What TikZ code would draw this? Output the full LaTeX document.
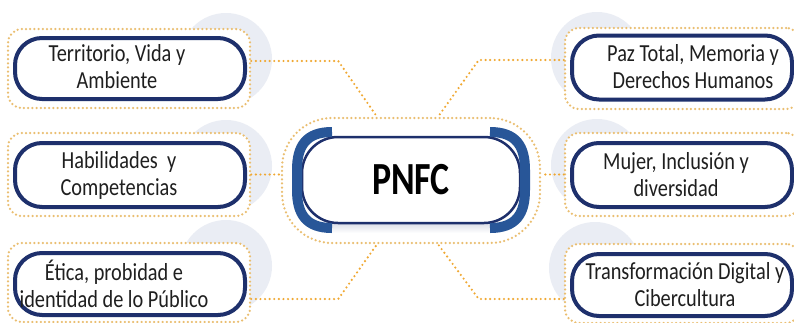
\documentclass[tikz,border=0pt]{standalone}
\usepackage{fontspec}
\setmainfont{Carlito}
\newfontfamily\boxfont[FakeStretch=0.83]{Carlito}
\newfontfamily\titlefont[FakeStretch=0.78]{Carlito}
\usetikzlibrary{calc}
\definecolor{navy}{RGB}{30,48,108}
\definecolor{capblue}{RGB}{40,86,152}
\definecolor{dotorange}{RGB}{240,168,50}
\definecolor{dotlight}{RGB}{234,190,112}
\definecolor{disc}{RGB}{234,237,244}
\begin{document}
\begin{tikzpicture}[x=1pt,y=-1pt,
  outerbox/.style={draw=dotlight, line width=2.5pt, dash pattern=on 0pt off 4.2pt, line cap=round, fill=white, rounded corners=14pt, inner sep=0pt},
  innerbox/.style={draw=navy, line width=4pt, fill=white, rounded corners=27pt, inner sep=0pt},
  conn/.style={draw=dotorange, line width=2.4pt, dash pattern=on 0pt off 4.6pt, line cap=round},
  greydisc/.style={fill=disc, draw=none},
  boxtext/.style={font=\boxfont\fontsize{24.5}{27}\selectfont, align=center, inner sep=0pt, text=black!88},
  capstroke/.style={draw=capblue, line width=10pt}
]
\useasboundingbox (0,0) rectangle (794,322);
\clip (0,0) rectangle (794,322);
\fill[white] (0,0) rectangle (794,322);

% grey discs
\fill[greydisc] (226,59) circle[radius=46pt];
\fill[greydisc] (226,166) circle[radius=46pt];
\fill[greydisc] (226,266) circle[radius=46pt];
\fill[greydisc] (597,58) circle[radius=46pt];
\fill[greydisc] (597,165) circle[radius=46pt];
\fill[greydisc] (595,268) circle[radius=46pt];

% outer dotted frames
\node[outerbox, minimum width=242pt, minimum height=79pt] (tlo) at (129,68.5) {};
\node[outerbox, minimum width=242pt, minimum height=83pt] (mlo) at (129,174.5) {};
\node[outerbox, minimum width=242pt, minimum height=79pt] (blo) at (129,282.5) {};
\node[outerbox, minimum width=235pt, minimum height=81pt] (tro) at (682.5,68.5) {};
\node[outerbox, minimum width=235pt, minimum height=83pt] (mro) at (682.5,174.5) {};
\node[outerbox, minimum width=235pt, minimum height=79pt] (bro) at (682.5,283.5) {};
\node[outerbox, rounded corners=50pt, minimum width=258pt, minimum height=125pt] (co) at (411,180.5) {};

% connectors
\draw[conn] ($(tlo.east)+(0,-7.5)$) -- ++(87,0) -- ([xshift=-34pt]co.north);
\draw[conn] (mlo.east) -- (mlo.east -| co.west);
\draw[conn] ($(blo.east)+(0,16.5)$) -- ++(87,0) -- ([xshift=-34pt]co.south);
\draw[conn] ($(tro.west)+(0,-8.5)$) -- ++(-85,0) -- ([xshift=27pt]co.north);
\draw[conn] (mro.west) -- (mro.west -| co.east);
\draw[conn] ($(bro.west)+(0,15.5)$) -- ++(-85,0) -- ([xshift=27pt]co.south);

% inner boxes
\node[innerbox, minimum width=230pt, minimum height=61pt] (tl) at (130,68.5) {};
\node[innerbox, minimum width=230pt, minimum height=64pt] (ml) at (130,175) {};
\node[innerbox, minimum width=230pt, minimum height=62pt] (bl) at (130,284) {};
\node[innerbox, minimum width=220pt, minimum height=64pt] (tr) at (682,67.5) {};
\node[innerbox, minimum width=220pt, minimum height=64pt] (mr) at (682,175) {};
\node[innerbox, minimum width=220pt, minimum height=62pt] (br) at (682,285) {};

% texts
\node[boxtext] (tlt) at (117,67) {Territorio, Vida y\\Ambiente};
\node[boxtext] (mlt) at (119,175) {Habilidades\ \ y\\Competencias};
\node[boxtext] (blt) at (114,284) {Ética, probidad e\\identidad de lo Público};
\node[boxtext] (trt) at (693,67) {Paz Total, Memoria y\\Derechos Humanos};
\node[boxtext] (mrt) at (676,175) {Mujer, Inclusión y\\diversidad};
\node[boxtext] (brt) at (685,285) {Transformación Digital y\\Cibercultura};

% centre
\shade[top color={rgb,255:red,212;green,215;blue,226}, bottom color=white] (330,221) rectangle (492,233);
\node[draw=navy, line width=2.5pt, fill=white, rounded corners=36pt, minimum width=218pt, minimum height=86pt, inner sep=0pt,
  font=\titlefont\bfseries\fontsize{46}{46}\selectfont, text=black] (ci) at (411,180) {PNFC};
\draw[capstroke] (332,132) .. controls (306,132) and (297,146) .. (297,170) -- (297,190) .. controls (297,214) and (306,228) .. (332,228);
\draw[capstroke] (490,132) .. controls (516,132) and (525,146) .. (525,170) -- (525,190) .. controls (525,214) and (516,228) .. (490,228);
\end{tikzpicture}
\end{document}
